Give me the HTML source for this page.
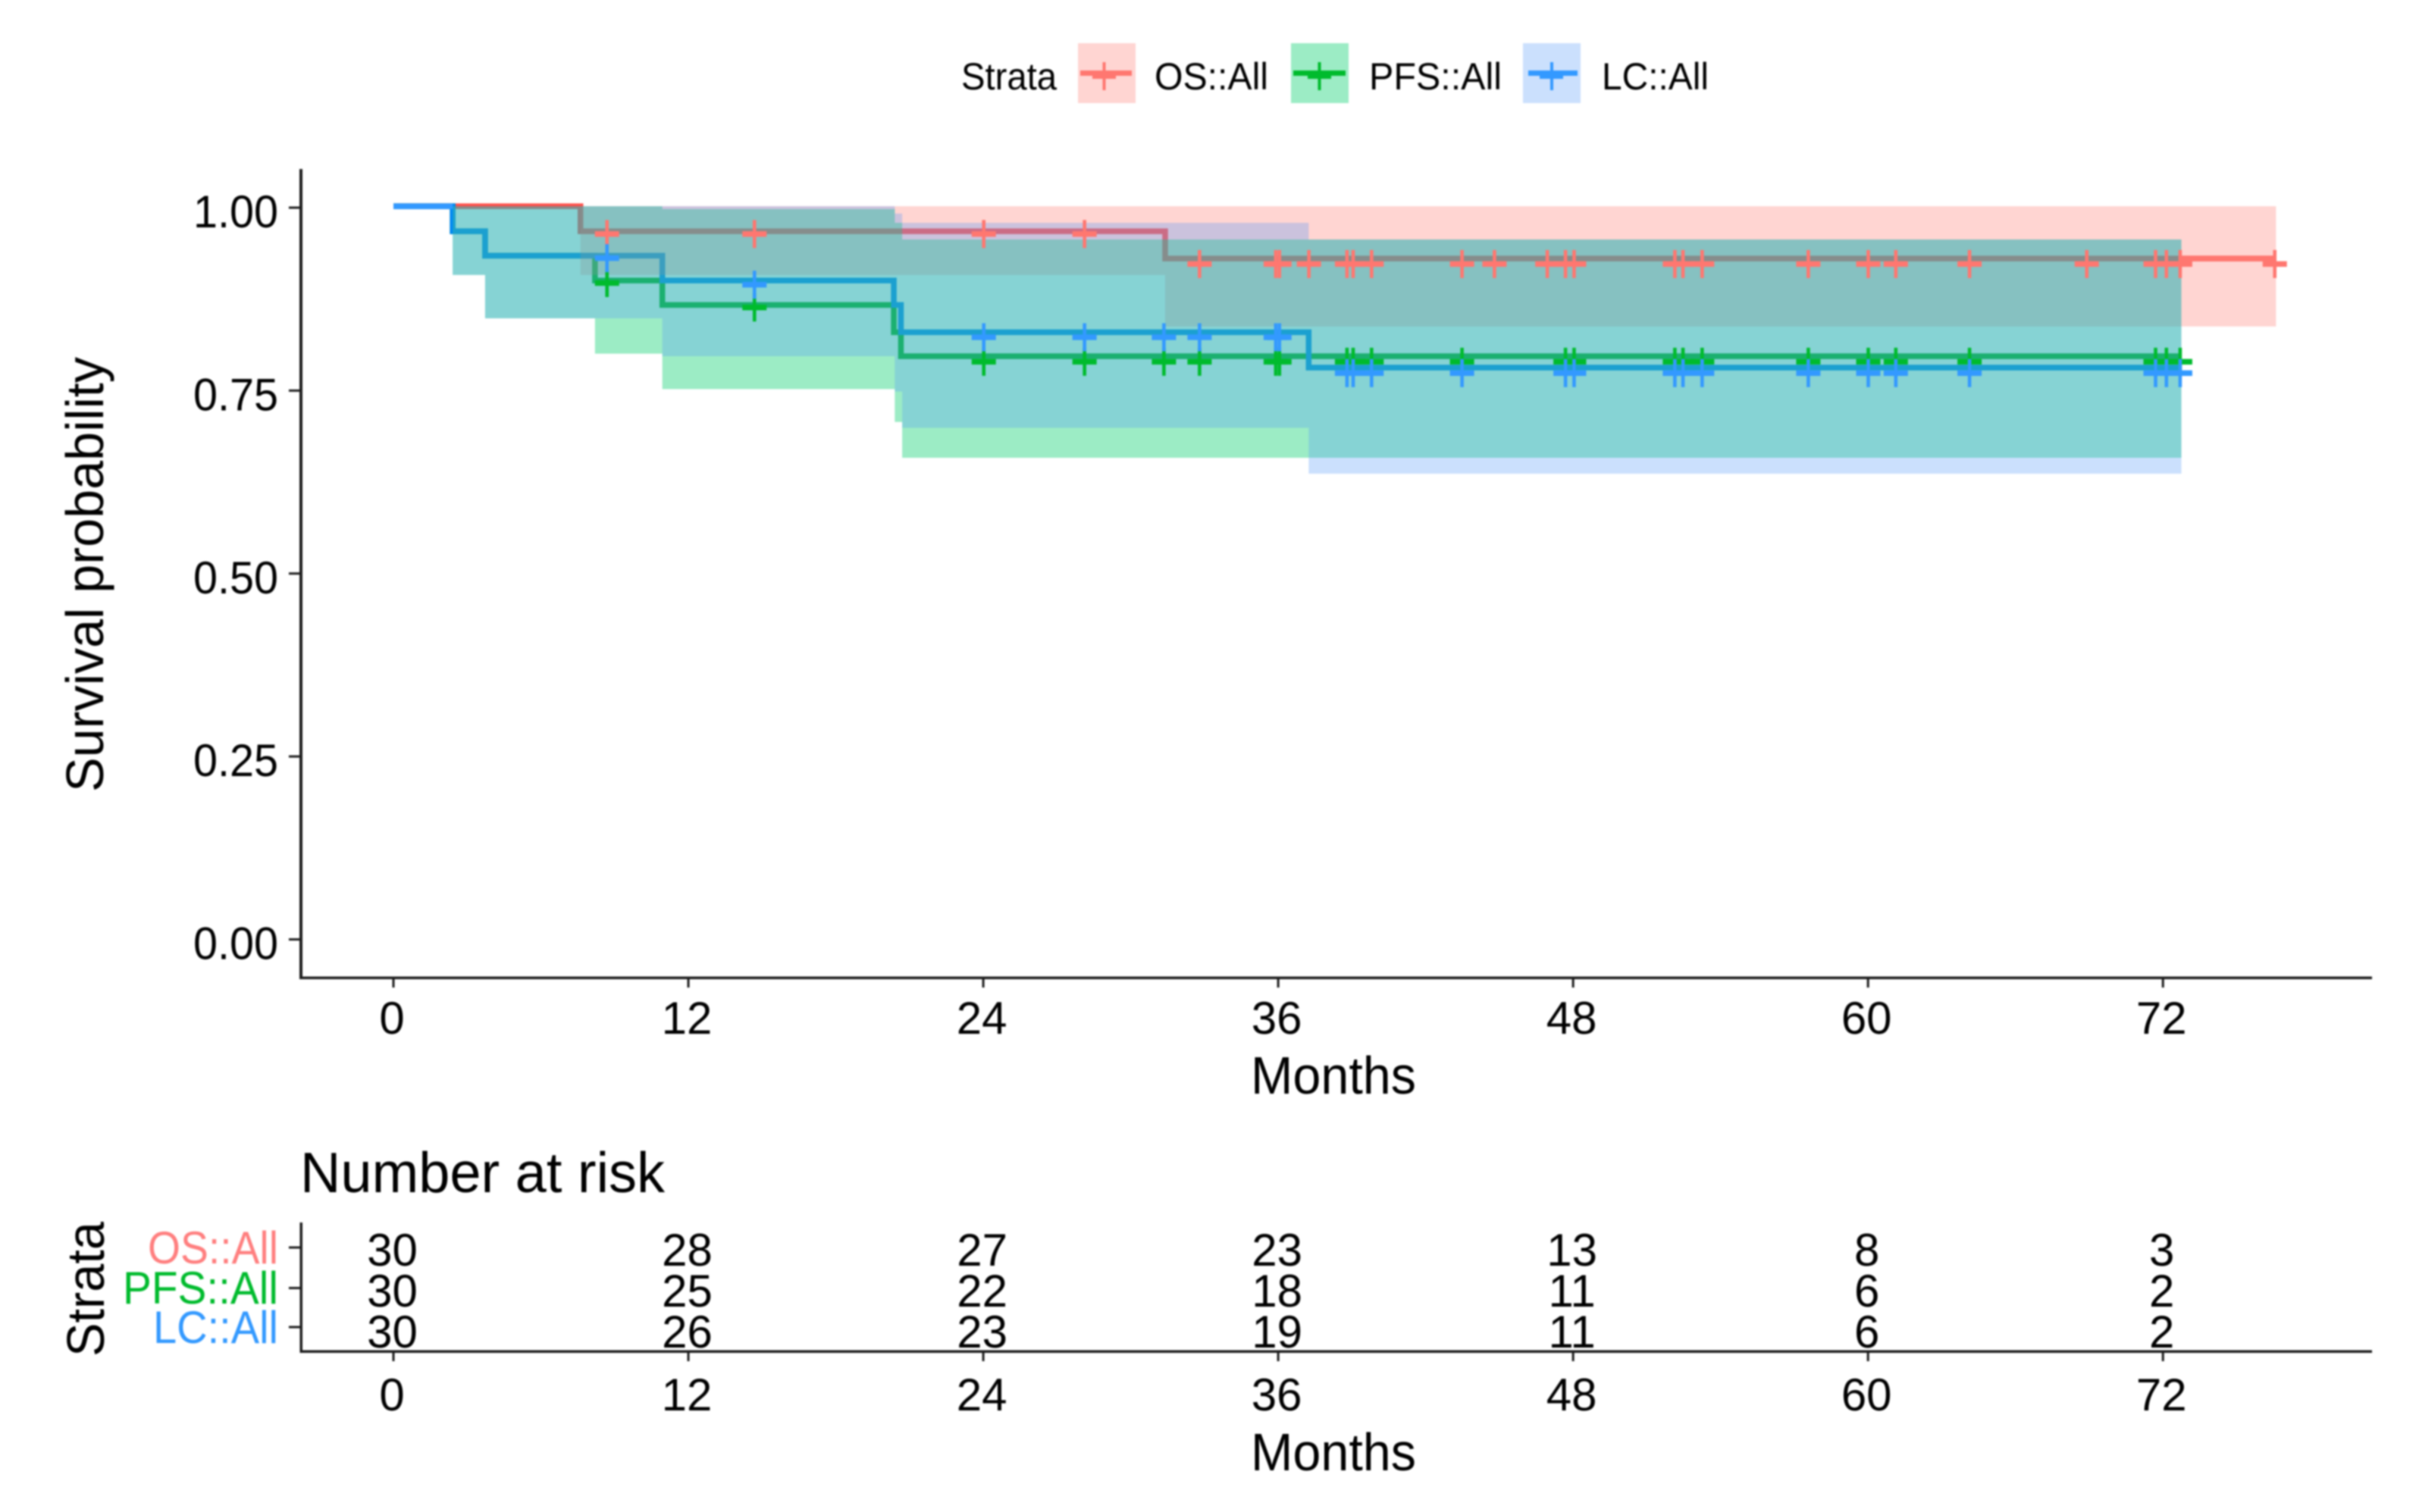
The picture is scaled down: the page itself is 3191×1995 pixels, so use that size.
<!DOCTYPE html>
<html lang="en">
<head>
<meta charset="utf-8">
<title>Survival probability chart</title>
<style>
html,body{margin:0;padding:0;background:#fff;}
#chart{display:block;filter:blur(1px);}
text{font-family:"Liberation Sans",sans-serif;fill:#000;}
</style>
</head>
<body>
<svg id="chart" xmlns="http://www.w3.org/2000/svg" width="3191" height="1995" viewBox="0 0 3191 1995">
  <rect x="0" y="0" width="3191" height="1995" fill="#fff"/>
  <g id="curve-lines"></g>
  <g id="ribbons"></g>
  <g id="line-ends"></g>
  <g id="marks"></g>
  <g id="axes"></g>
  <g id="risk"></g>

  <g>
    <text x="1268" y="118" font-size="50" textLength="126" lengthAdjust="spacingAndGlyphs">Strata</text>
    <g>
      <rect x="1422" y="57" width="76" height="79" fill="#ffd5d2"/>
      <rect x="1425" y="93" width="68" height="7" fill="#ff7770"/>
      <rect x="1441" y="98" width="31" height="6" fill="#ff7770"/>
      <rect x="1454.5" y="82" width="4" height="37" fill="#ff7770"/>
      <text x="1523" y="118" font-size="50" textLength="150" lengthAdjust="spacingAndGlyphs">OS::All</text>
    </g>
    <g>
      <rect x="1703" y="57" width="76" height="79" fill="#9cecc5"/>
      <rect x="1706" y="93" width="69" height="7" fill="#00bb2d"/>
      <rect x="1725" y="98" width="31" height="6" fill="#00bb2d"/>
      <rect x="1738.5" y="82" width="4" height="37" fill="#00bb2d"/>
      <text x="1806" y="118" font-size="50" textLength="175" lengthAdjust="spacingAndGlyphs">PFS::All</text>
    </g>
    <g>
      <rect x="2009" y="57" width="76" height="79" fill="#cbe0fd"/>
      <rect x="2016" y="93" width="65" height="7" fill="#3399ff"/>
      <rect x="2031" y="98" width="31" height="6" fill="#3399ff"/>
      <rect x="2045" y="82" width="4" height="37" fill="#3399ff"/>
      <text x="2113" y="118" font-size="50" textLength="141" lengthAdjust="spacingAndGlyphs">LC::All</text>
    </g>
  </g>

  <text transform="translate(136 1045) rotate(-90)" font-size="70" textLength="574" lengthAdjust="spacingAndGlyphs">Survival probability</text>
  <text x="1650" y="1443" font-size="70" textLength="218" lengthAdjust="spacingAndGlyphs">Months</text>
  <text x="396" y="1573" font-size="75" textLength="481" lengthAdjust="spacingAndGlyphs">Number at risk</text>
  <text transform="translate(137 1790) rotate(-90)" font-size="70" textLength="178" lengthAdjust="spacingAndGlyphs">Strata</text>
  <text x="1650" y="1940" font-size="70" textLength="218" lengthAdjust="spacingAndGlyphs">Months</text>
  <text x="195" y="1667" font-size="60" textLength="172" lengthAdjust="spacingAndGlyphs" style="fill:#ff7f7f">OS::All</text>
  <text x="162" y="1720" font-size="60" textLength="205" lengthAdjust="spacingAndGlyphs" style="fill:#00bb2d">PFS::All</text>
  <text x="202" y="1772" font-size="60" textLength="165" lengthAdjust="spacingAndGlyphs" style="fill:#3399ff">LC::All</text>
</svg>

<script>
// Axis tick values
const xTickLabels = [0, 12, 24, 36, 48, 60, 72];
const yTickLabels = ["0.00", "0.25", "0.50", "0.75", "1.00"];
const yTickValues = [0, 0.25, 0.5, 0.75, 1];

// Kaplan-Meier step curves (month, survival)
const osStepTimes = [0, 7.61, 31.4, 76.55];
const osStepSurv = [1.002, 0.9677, 0.9305, 0.9305];
const pfsStepTimes = [0, 2.41, 3.73, 8.2, 10.94, 20.36, 20.65, 72.75];
const pfsStepSurv = [1.002, 0.9677, 0.9344, 0.9005, 0.867, 0.8298, 0.797, 0.797];
const lcStepTimes = [0, 2.41, 3.73, 10.94, 20.36, 20.65, 37.24, 72.75];
const lcStepSurv = [1.002, 0.9677, 0.9344, 0.9005, 0.867, 0.8298, 0.7814, 0.7814];

// Confidence ribbons
const osBandTimes = [7.61, 31.4, 76.6];
const osBandUpper = [1.002, 1.002, 1.002];
const osBandLower = [0.9081, 0.8377, 0.8377];
const pfsBandTimes = [2.41, 3.73, 8.2, 10.94, 20.4, 20.7, 72.75];
const pfsBandUpper = [1.002, 1.002, 1.002, 0.998, 0.9793, 0.9565, 0.9565];
const pfsBandLower = [0.9081, 0.8488, 0.8005, 0.7521, 0.7072, 0.6582, 0.6582];
const lcBandTimes = [2.41, 3.73, 10.94, 20.4, 20.7, 37.24, 72.75];
const lcBandUpper = [1.002, 1.002, 1.002, 0.992, 0.9793, 0.9565, 0.9565];
const lcBandLower = [0.9081, 0.8488, 0.797, 0.7487, 0.6993, 0.6365, 0.6365];

// Censoring marks
const osCensorTimes = [8.69, 14.69, 24.02, 28.12, 32.8, 35.9, 36.05, 37.25, 38.8, 39.05, 39.8, 43.48, 44.8, 46.95, 47.69, 48.04, 52.14, 52.47, 53.25, 57.57, 60.01, 61.13, 64.13, 68.9, 71.7, 72.14, 72.7, 76.55];
const osCensorSurv = [0.964, 0.964, 0.964, 0.964, 0.923, 0.923, 0.923, 0.923, 0.923, 0.923, 0.923, 0.923, 0.923, 0.923, 0.923, 0.923, 0.923, 0.923, 0.923, 0.923, 0.923, 0.923, 0.923, 0.923, 0.923, 0.923, 0.923, 0.923];
const pfsCensorTimes = [8.69, 14.69, 24.02, 28.12, 31.35, 32.8, 35.9, 36.05, 38.8, 39.05, 39.8, 43.48, 47.69, 48.04, 52.14, 52.47, 53.25, 57.57, 60.01, 61.13, 64.13, 71.7, 72.14, 72.7];
const pfsCensorSurv = [0.897, 0.8636, 0.7894, 0.7894, 0.7894, 0.7894, 0.7894, 0.7894, 0.7894, 0.7894, 0.7894, 0.7894, 0.7894, 0.7894, 0.7894, 0.7894, 0.7894, 0.7894, 0.7894, 0.7894, 0.7894, 0.7894, 0.7894, 0.7894];
const lcCensorTimes = [8.69, 14.69, 24.02, 28.12, 31.35, 32.8, 35.9, 36.05, 38.8, 39.05, 39.8, 43.48, 47.69, 48.04, 52.14, 52.47, 53.25, 57.57, 60.01, 61.13, 64.13, 71.7, 72.14, 72.7];
const lcCensorSurv = [0.931, 0.8947, 0.8229, 0.8229, 0.8229, 0.8229, 0.8229, 0.8229, 0.7739, 0.7739, 0.7739, 0.7739, 0.7739, 0.7739, 0.7739, 0.7739, 0.7739, 0.7739, 0.7739, 0.7739, 0.7739, 0.7739, 0.7739, 0.7739];

// Number at risk
const riskMonths = [0, 12, 24, 36, 48, 60, 72];
const riskOS = [30, 28, 27, 23, 13, 8, 3];
const riskPFS = [30, 25, 22, 18, 11, 6, 2];
const riskLC = [30, 26, 23, 19, 11, 6, 2];

const NS = "http://www.w3.org/2000/svg";
const xAxis = t => 519 + 32.42 * t;
const yAxis = v => 1239.5 - 965.5 * v;
function make(parent, tag, props, text) {
  const e = document.createElementNS(NS, tag);
  for (const k in props) e.setAttribute(k, props[k]);
  if (text !== undefined) e.textContent = text;
  parent.appendChild(e);
  return e;
}
const gLines = document.getElementById("curve-lines");
const gRibbons = document.getElementById("ribbons");
const gEnds = document.getElementById("line-ends");
const gMarks = document.getElementById("marks");
const gAxes = document.getElementById("axes");
const gRisk = document.getElementById("risk");

function stepPath(times, surv) {
  let d = "M" + xAxis(times[0]) + " " + yAxis(surv[0]);
  for (let i = 1; i < times.length; i++) {
    d += "H" + xAxis(times[i]) + "V" + yAxis(surv[i]);
  }
  return d;
}
function bandPath(times, upper, lower) {
  const n = times.length - 1;
  let d = "M" + xAxis(times[0]) + " " + yAxis(upper[0]);
  for (let i = 1; i <= n; i++) {
    d += "H" + xAxis(times[i]) + "V" + yAxis(upper[i]);
  }
  for (let i = n; i >= 1; i--) {
    d += "V" + yAxis(lower[i - 1]) + "H" + xAxis(times[i - 1]);
  }
  return d + "Z";
}
function drawPlus(color, t, v) {
  const g = make(gMarks, "g", {});
  const cx = xAxis(t), cy = yAxis(v);
  make(g, "rect", { x: cx - 16, y: cy - 3.7, width: 32, height: 7.4, fill: color });
  make(g, "rect", { x: cx - 2.3, y: cy - 18.5, width: 4.6, height: 37, fill: color });
  return g;
}

// Lines sit beneath the translucent ribbons
const osLine = make(gLines, "path", { d: stepPath(osStepTimes, osStepSurv), fill: "none", stroke: "#ff4f4a", "stroke-width": 7.5 });


const pfsLine = make(gLines, "path", { d: stepPath(pfsStepTimes, pfsStepSurv), fill: "none", stroke: "#00ae11", "stroke-width": 7.5 });


const lcLine = make(gLines, "path", { d: stepPath(lcStepTimes, lcStepSurv), fill: "none", stroke: "#0088f5", "stroke-width": 7.5 });



const osBand = make(gRibbons, "path", { d: bandPath(osBandTimes, osBandUpper, osBandLower), fill: "rgb(255,115,105)", "fill-opacity": 0.3 });


const pfsBand = make(gRibbons, "path", { d: bandPath(pfsBandTimes, pfsBandUpper, pfsBandLower), fill: "rgb(8,207,110)", "fill-opacity": 0.4 });


const lcBand = make(gRibbons, "path", { d: bandPath(lcBandTimes, lcBandUpper, lcBandLower), fill: "rgb(82,152,248)", "fill-opacity": 0.3 });



// Portions of the curves outside the ribbons keep the pure series colour
const lcLeadIn = make(gEnds, "path", { d: "M" + xAxis(lcStepTimes[0]) + " " + yAxis(lcStepSurv[0]) + "H" + xAxis(lcStepTimes[1]), fill: "none", stroke: "#3399ff", "stroke-width": 7.5 });


const osTail = make(gEnds, "path", { d: "M" + xAxis(lcStepTimes[lcStepTimes.length - 1]) + " " + yAxis(osStepSurv[osStepSurv.length - 1]) + "H" + xAxis(osStepTimes[osStepTimes.length - 1]), fill: "none", stroke: "#ff7770", "stroke-width": 7.5 });



osCensorTimes.forEach((t, i) => {
  const m = drawPlus("#ff7770", t, osCensorSurv[i]);
  
  
});
pfsCensorTimes.forEach((t, i) => {
  const m = drawPlus("#00bb2d", t, pfsCensorSurv[i]);
  
  
});
lcCensorTimes.forEach((t, i) => {
  const m = drawPlus("#3399ff", t, lcCensorSurv[i]);
  
  
});

// Main axes
const AX = "#1c1c1c";
const yLine = make(gAxes, "rect", { x: 395, y: 223, width: 4, height: 1069, fill: AX });


const xLine = make(gAxes, "rect", { x: 395, y: 1288.5, width: 2734, height: 3.5, fill: AX });



yTickValues.forEach((v, i) => {
  const tick = make(gAxes, "rect", { x: 381, y: yAxis(v) - 1.5, width: 15, height: 3, fill: AX });
  
  
  const label = make(gAxes, "text", { x: 255, y: yAxis(v) + 26, "font-size": 60, textLength: 112, lengthAdjust: "spacingAndGlyphs" }, yTickLabels[i]);
  
  
});
xTickLabels.forEach(m => {
  const tick = make(gAxes, "rect", { x: xAxis(m) - 1.5, y: 1290, width: 3, height: 13, fill: AX });
  
  
  const label = make(gAxes, "text", { x: xAxis(m) - 2, y: 1364, "text-anchor": "middle", "font-size": 60 }, String(m));
  
  
});

// Risk table axes and counts
const riskY = make(gRisk, "rect", { x: 395.5, y: 1613, width: 3.5, height: 172, fill: AX });


const riskX = make(gRisk, "rect", { x: 395.5, y: 1781.5, width: 2733.5, height: 3.5, fill: AX });


const riskTickOS = make(gRisk, "rect", { x: 381, y: 1644.5, width: 15, height: 3, fill: AX });


const riskTickPFS = make(gRisk, "rect", { x: 381, y: 1698, width: 15, height: 3, fill: AX });


const riskTickLC = make(gRisk, "rect", { x: 381, y: 1749.5, width: 15, height: 3, fill: AX });



riskMonths.forEach((m, i) => {
  const tick = make(gRisk, "rect", { x: xAxis(m) - 1.5, y: 1783, width: 3, height: 13, fill: AX });
  
  
  const label = make(gRisk, "text", { x: xAxis(m) - 2, y: 1861, "text-anchor": "middle", "font-size": 60 }, String(m));
  
  
  const a = make(gRisk, "text", { x: xAxis(m) - 1.5, y: 1670, "text-anchor": "middle", "font-size": 60 }, String(riskOS[i]));
  
  
  const b = make(gRisk, "text", { x: xAxis(m) - 1.5, y: 1724, "text-anchor": "middle", "font-size": 60 }, String(riskPFS[i]));
  
  
  const c = make(gRisk, "text", { x: xAxis(m) - 1.5, y: 1778, "text-anchor": "middle", "font-size": 60 }, String(riskLC[i]));
  
  
});
</script>
</body>
</html>
